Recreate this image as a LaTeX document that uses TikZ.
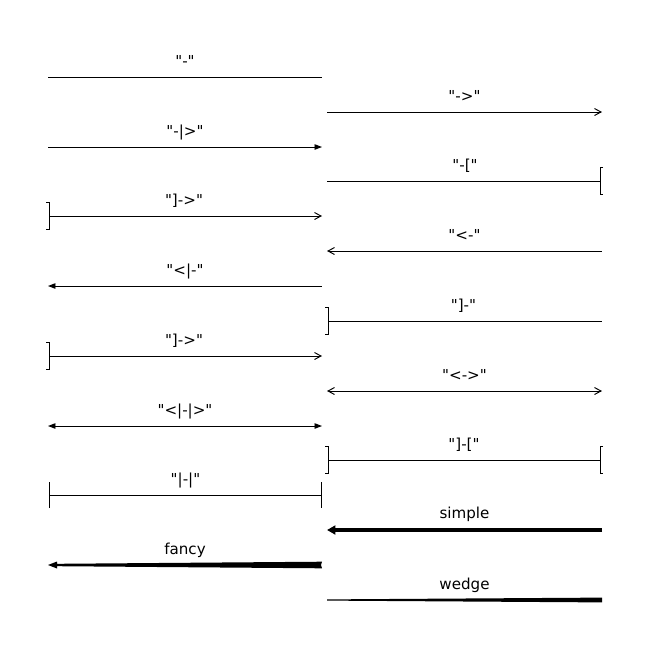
\documentclass[tikz,border=0pt]{standalone}
\usepackage{fontspec}
\setmainfont{DejaVu Sans}[Ligatures=TeXOff]
\usetikzlibrary{arrows.meta, calc}

\begin{document}
\begin{tikzpicture}[
    x=0.02cm, y=-0.02cm,
    every node/.style={font=\fontsize{8.6}{10}\selectfont},
    lbl/.style={anchor=base, yshift=0.22cm, inner sep=0pt},
    conn/.style={line width=0.55pt},
    barb/.tip={Straight Barb[length=0.13cm, width=0.14cm]},
    tri/.tip={Triangle[length=0.15cm, width=0.11cm]},
    brk/.tip={Bracket[width=0.56cm, length=0.06cm, reversed]},
    tbar/.tip={Bar[width=0.52cm]}
]
    \useasboundingbox (0,0) rectangle (650,650);

    % left column
    \coordinate (a1s) at (48,77);  \coordinate (a1e) at (322,77);
    \coordinate (a2s) at (48,147); \coordinate (a2e) at (322,147);
    \coordinate (a3s) at (46,216); \coordinate (a3e) at (322,216);
    \coordinate (a4s) at (48,286); \coordinate (a4e) at (322,286);
    \coordinate (a5s) at (46,356); \coordinate (a5e) at (322,356);
    \coordinate (a6s) at (48,426); \coordinate (a6e) at (322,426);
    \coordinate (a7s) at (49,495); \coordinate (a7e) at (322,495);
    \coordinate (a8s) at (48,565); \coordinate (a8e) at (322,565);

    % right column
    \coordinate (b1s) at (327,112); \coordinate (b1e) at (602,112);
    \coordinate (b2s) at (327,181); \coordinate (b2e) at (603,181);
    \coordinate (b3s) at (327,251); \coordinate (b3e) at (602,251);
    \coordinate (b4s) at (325,321); \coordinate (b4e) at (602,321);
    \coordinate (b5s) at (327,391); \coordinate (b5e) at (602,391);
    \coordinate (b6s) at (325,460); \coordinate (b6e) at (603,460);
    \coordinate (b7s) at (327,530); \coordinate (b7e) at (602,530);
    \coordinate (b8s) at (327,600); \coordinate (b8e) at (602,600);

    \draw[conn]             (a1s) -- node[lbl] (ta1) {"-"}     (a1e);
    \draw[conn, -tri]       (a2s) -- node[lbl] (ta2) {"-|>"}   (a2e);
    \draw[conn, brk-barb]   (a3s) -- node[lbl] (ta3) {"]->"}   (a3e);
    \draw[conn, tri-]       (a4s) -- node[lbl] (ta4) {"<|-"}   (a4e);
    \draw[conn, brk-barb]   (a5s) -- node[lbl] (ta5) {"]->"}   (a5e);
    \draw[conn, tri-tri]    (a6s) -- node[lbl] (ta6) {"<|-|>"} (a6e);
    \draw[conn, tbar-tbar]  (a7s) -- node[lbl] (ta7) {"|-|"}   (a7e);
    \path (a8s) -- node[lbl] (ta8) {fancy} (a8e);
    \fill ($(a8e)+(0,-3.3)$) -- ($(a8s)+(9,-1.2)$) -- ($(a8s)+(9,-3.5)$) -- (a8s)
        -- ($(a8s)+(9,3.5)$) -- ($(a8s)+(9,1.2)$) -- ($(a8e)+(0,3.3)$)
        -- ($(a8e)+(-1,0)$) -- cycle;

    \draw[conn, -barb]      (b1s) -- node[lbl] (tb1) {"->"}    (b1e);
    \draw[conn, -brk]       (b2s) -- node[lbl] (tb2) {"-["}    (b2e);
    \draw[conn, barb-]      (b3s) -- node[lbl] (tb3) {"<-"}    (b3e);
    \draw[conn, brk-]       (b4s) -- node[lbl] (tb4) {"]-"}    (b4e);
    \draw[conn, barb-barb]  (b5s) -- node[lbl] (tb5) {"<->"}   (b5e);
    \draw[conn, brk-brk]    (b6s) -- node[lbl] (tb6) {"]-["}   (b6e);
    \draw[line width=0.07cm, -{Triangle[length=0.17cm, width=0.18cm]}]
        (b7e) -- node[lbl, yshift=0.02cm] (tb7) {simple} (b7s);
    \path (b8s) -- node[lbl] (tb8) {wedge} (b8e);
    \fill ($(b8s)+(0,-0.6)$) -- ($(b8e)+(0,-2.4)$) -- ($(b8e)+(0,2.4)$)
        -- ($(b8s)+(0,0.6)$) -- cycle;
\end{tikzpicture}
\end{document}
